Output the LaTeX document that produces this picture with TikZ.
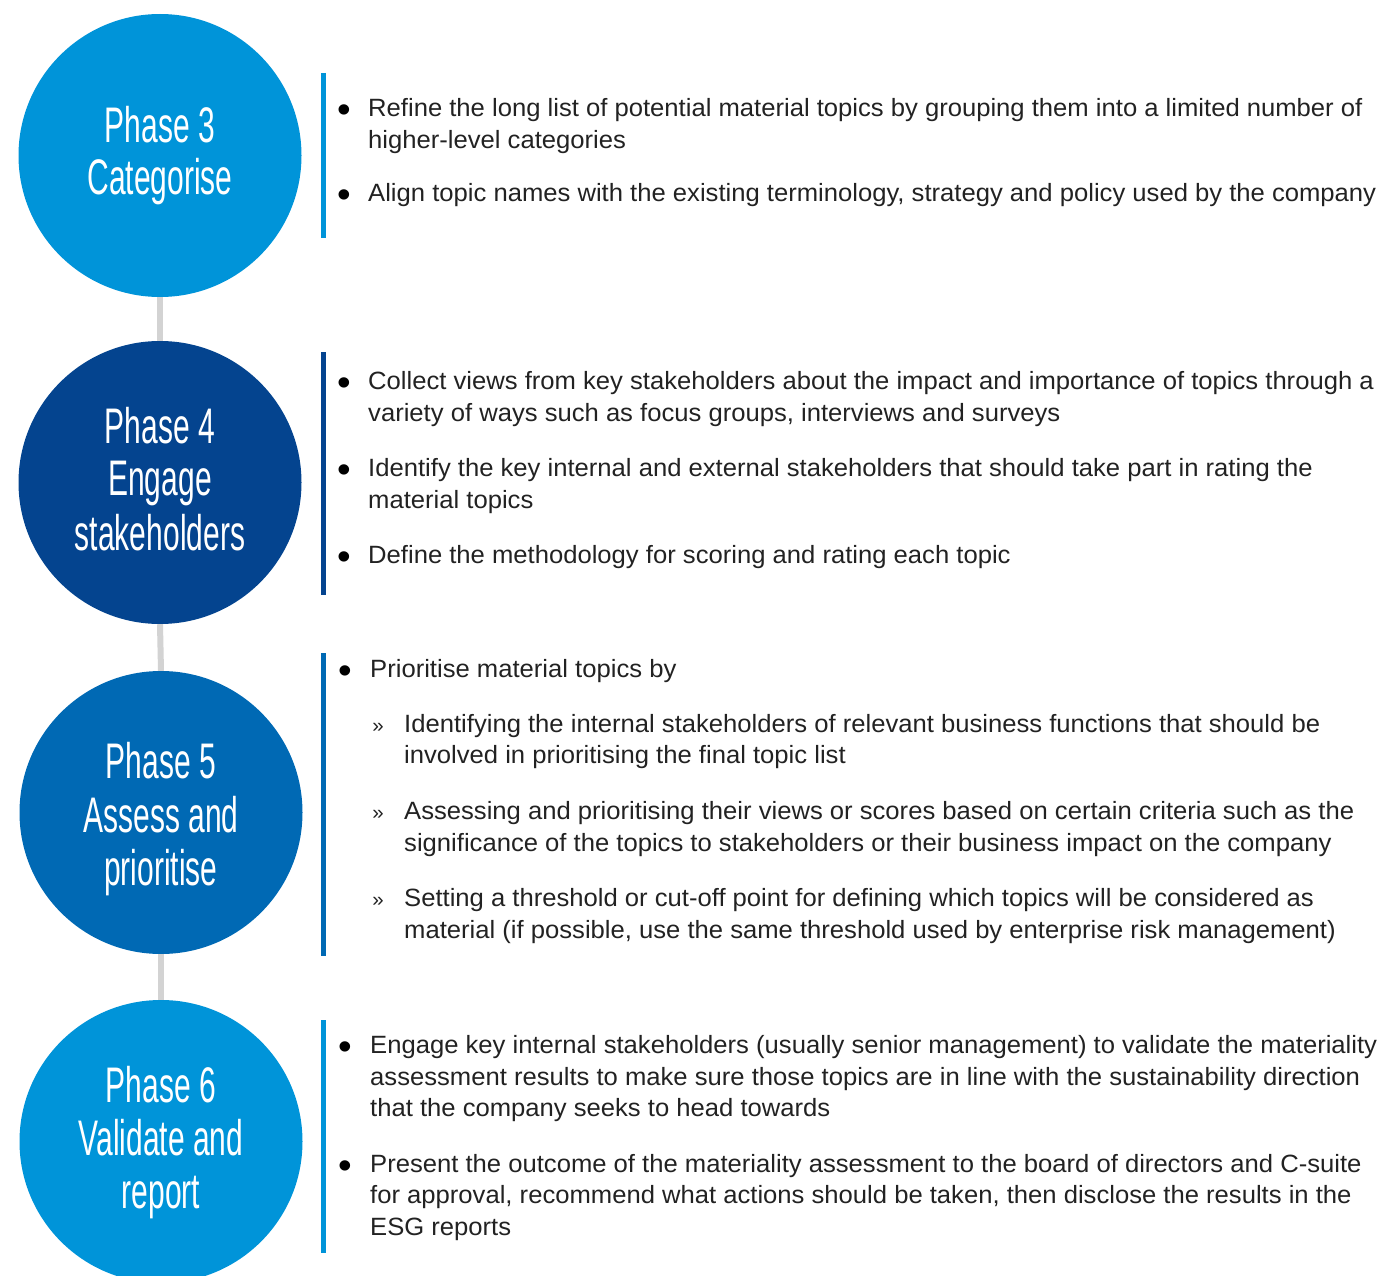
\documentclass[tikz,border=0pt]{standalone}
\usepackage{fontspec}
\setmainfont{Liberation Sans}
\newfontfamily\circfont[FakeStretch=0.6]{Liberation Sans}
\newfontfamily\bodyfont[FakeStretch=1.025]{Liberation Sans}
\definecolor{lightblue}{HTML}{0094D9}
\definecolor{darkblue}{HTML}{04448F}
\definecolor{midblue}{HTML}{0069B4}
\definecolor{linkgray}{HTML}{D3D3D3}
\definecolor{bodytext}{HTML}{222222}
\tikzset{
  phase/.style={circle, minimum size=283pt, inner sep=0pt, draw=none},
  ctext/.style={anchor=base, inner sep=0pt, text=white, font=\circfont\fontsize{50}{50}\selectfont},
  btext/.style={anchor=base west, inner sep=0pt, text=bodytext, font=\bodyfont\fontsize{25}{32}\selectfont},
  bul/.style={anchor=base, inner sep=0pt, yshift=-6pt, text=black, font=\bodyfont\fontsize{38}{32}\selectfont},
  subbul/.style={anchor=base, inner sep=0pt, text=bodytext, font=\bodyfont\fontsize{20}{32}\selectfont},
  bar/.style={line width=5pt},
  link/.style={draw=linkgray, line width=6pt},
}
\newcommand\bline[4]{\node[btext] (#1) at (#2,#3) {#4};}
\begin{document}
\begin{tikzpicture}[x=1pt,y=-1pt]
\useasboundingbox (0,0) rectangle (1379,1276);
\clip (0,0) rectangle (1379,1276);
% circles
\node[phase, fill=lightblue] (p3) at (160,155.5) {};
\node[phase, fill=darkblue]  (p4) at (160,482.5) {};
\node[phase, fill=midblue]   (p5) at (161,812.5) {};
\node[phase, fill=lightblue] (p6) at (161,1141.5) {};
% links
\draw[link] (p3.south) -- (p4.north);
\draw[link] (p4.south) -- (p5.north);
\draw[link] (p5.south) -- (p6.north);
% circle texts
\node[ctext] (p3a) at (160,143) {Phase 3};
\node[ctext] (p3b) at (160,195) {Categorise};
\node[ctext] (p4a) at (160,443) {Phase 4};
\node[ctext] (p4b) at (160,495) {Engage};
\node[ctext] (p4c) at (160,550) {stakeholders};
\node[ctext] (p5a) at (161,778) {Phase 5};
\node[ctext] (p5b) at (161,832) {Assess and};
\node[ctext] (p5c) at (161,885) {prioritise};
\node[ctext] (p6a) at (161,1102) {Phase 6};
\node[ctext] (p6b) at (161,1155) {Validate and};
\node[ctext] (p6c) at (161,1208) {report};
% bars
\draw[bar, lightblue] (323.5,73) -- (323.5,238);
\draw[bar, darkblue]  (323.5,352) -- (323.5,595);
\draw[bar, midblue]   (323.5,653) -- (323.5,956);
\draw[bar, lightblue] (323.5,1020) -- (323.5,1253);
% section 3
\node[bul] (b3a) at (344,117) {•};
\bline{t3a}{368}{117}{Refine the long list of potential material topics by grouping them into a limited number of}
\bline{t3b}{368}{149}{higher-level categories}
\node[bul] (b3b) at (344,202) {•};
\bline{t3c}{368}{202}{Align topic names with the existing terminology, strategy and policy used by the company}
% section 4
\node[bul] (b4a) at (344,389) {•};
\bline{t4a}{368}{389}{Collect views from key stakeholders about the impact and importance of topics through a}
\bline{t4b}{368}{421}{variety of ways such as focus groups, interviews and surveys}
\node[bul] (b4b) at (344,476) {•};
\bline{t4c}{368}{476}{Identify the key internal and external stakeholders that should take part in rating the}
\bline{t4d}{368}{508}{material topics}
\node[bul] (b4c) at (344,563) {•};
\bline{t4e}{368}{563}{Define the methodology for scoring and rating each topic}
% section 5
\node[bul] (b5a) at (345,677) {•};
\bline{t5a}{370}{677}{Prioritise material topics by}
\node[subbul] (b5b) at (378,732) {»};
\bline{t5b}{404}{732}{Identifying the internal stakeholders of relevant business functions that should be}
\bline{t5c}{404}{763}{involved in prioritising the final topic list}
\node[subbul] (b5c) at (378,819) {»};
\bline{t5d}{404}{819}{Assessing and prioritising their views or scores based on certain criteria such as the}
\bline{t5e}{404}{851}{significance of the topics to stakeholders or their business impact on the company}
\node[subbul] (b5d) at (378,906) {»};
\bline{t5f}{404}{906}{Setting a threshold or cut-off point for defining which topics will be considered as}
\bline{t5g}{404}{938}{material (if possible, use the same threshold used by enterprise risk management)}
% section 6
\node[bul] (b6a) at (345,1053) {•};
\bline{t6a}{370}{1053}{Engage key internal stakeholders (usually senior management) to validate the materiality}
\bline{t6b}{370}{1085}{assessment results to make sure those topics are in line with the sustainability direction}
\bline{t6c}{370}{1116}{that the company seeks to head towards}
\node[bul] (b6b) at (345,1172) {•};
\bline{t6d}{370}{1172}{Present the outcome of the materiality assessment to the board of directors and C-suite}
\bline{t6e}{370}{1203}{for approval, recommend what actions should be taken, then disclose the results in the}
\bline{t6f}{370}{1235}{ESG reports}
\end{tikzpicture}
\end{document}
